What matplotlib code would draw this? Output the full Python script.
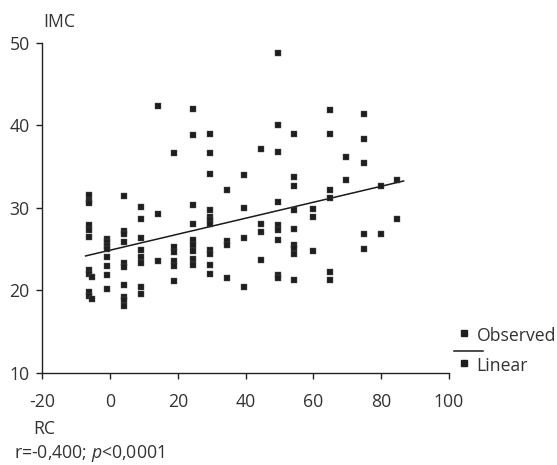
import numpy as np
import matplotlib
matplotlib.use('Agg')
import matplotlib.pyplot as plt
from matplotlib.lines import Line2D

plt.rcParams['font.family'] = ['Open Sans', 'DejaVu Sans']
plt.rcParams['axes.unicode_minus'] = False
plt.rcParams['mathtext.fontset'] = 'custom'
plt.rcParams['mathtext.it'] = 'Open Sans:italic'
plt.rcParams['mathtext.rm'] = 'Open Sans'

# RC (x) columns and the IMC (y) values read in each column
rc_cols = [-6.2, -5.3, -1.0, 4.2, 9.2, 14.2, 19.0, 24.5, 29.6, 34.4,
           39.5, 44.4, 49.5, 54.3, 59.8, 64.9, 69.7, 74.8, 79.8, 84.6]
imc_cols = [
    [31.6, 30.8, 30.6, 27.9, 27.3, 26.5, 22.4, 22.0, 19.8, 19.3],
    [21.6, 19.0],
    [26.2, 25.8, 25.4, 25.0, 24.0, 23.0, 21.9, 20.1],
    [31.4, 27.2, 26.8, 25.8, 23.3, 22.8, 20.7, 19.2, 18.8, 18.1],
    [30.1, 28.6, 26.3, 24.9, 24.0, 23.3, 20.4, 19.6],
    [42.4, 29.3, 23.6],
    [36.6, 25.2, 24.7, 23.6, 22.9, 21.1],
    [42.0, 38.8, 30.3, 28.0, 26.1, 25.5, 24.8, 23.75, 23.1],
    [39.0, 36.6, 34.1, 29.8, 28.9, 28.5, 28.1, 24.9, 24.4, 23.1, 22.0],
    [32.2, 26.0, 25.5, 21.5],
    [34.0, 30.0, 26.4, 20.4],
    [37.2, 28.0, 27.1, 23.7],
    [48.8, 40.1, 36.8, 30.7, 27.9, 27.3, 26.1, 21.9, 21.5],
    [39.0, 33.8, 32.7, 29.7, 27.4, 25.5, 25.1, 24.35, 21.3],
    [29.9, 28.85, 24.8],
    [41.9, 39.0, 32.2, 31.15, 22.25, 21.2],
    [36.2, 33.4],
    [41.4, 38.3, 35.5, 26.8, 24.95],
    [32.65, 26.85],
    [33.4, 28.6],
]

x = np.concatenate([[c] * len(v) for c, v in zip(rc_cols, imc_cols)])
y = np.concatenate(imc_cols)

# linear fit, drawn over the data range
slope, intercept = np.polyfit(x, y, 1)
xl = np.array([x.min() - 1, x.max() + 2])

txt = '#333333'
mk = '#1e1e1e'
fs = 12.7

fig = plt.figure(figsize=(5.57, 4.65), dpi=100)
ax = fig.add_axes([0.0759, 0.1985, 0.7302, 0.709])

ax.plot(x, y, 's', color=mk, markersize=3.9, markeredgewidth=0.3,
        markeredgecolor='#555555', zorder=3)
ax.plot(xl, slope * xl + intercept, color='#1a1a1a', lw=1.1, zorder=2)

ax.set_xlim(-20, 100)
ax.set_ylim(10, 50)
ax.set_xticks(np.arange(-20, 101, 20))
ax.set_yticks(np.arange(10, 51, 10))
for s in ['top', 'right']:
    ax.spines[s].set_visible(False)
for s in ['left', 'bottom']:
    ax.spines[s].set_linewidth(1.0)
    ax.spines[s].set_color('#222222')
ax.tick_params(direction='out', length=4, width=1.0, color='#222222',
               labelsize=fs, labelcolor=txt, pad=5)
ax.tick_params(axis='x', pad=10.5)

fig.text(0.077, 0.952, 'IMC', fontsize=fs, color=txt, va='center', ha='left')
fig.text(0.059, 0.077, 'RC', fontsize=fs, color=txt, va='center', ha='left')
fig.text(0.025, 0.024, r'r=-0,400; $\it{p}$<0,0001', fontsize=fs, color=txt,
         va='center', ha='left')

# legend as drawn in the original
fig.add_artist(Line2D([0.8336], [0.2832], marker='s', color=mk, markersize=3.9, ls='none'))
fig.add_artist(Line2D([0.8336], [0.2187], marker='s', color=mk, markersize=3.9, ls='none'))
fig.add_artist(Line2D([0.8157, 0.8677], [0.2458, 0.2458], color='#1a1a1a', lw=1.1))
fig.text(0.8558, 0.278, 'Observed', fontsize=fs, color=txt, va='center', ha='left')
fig.text(0.8558, 0.213, 'Linear', fontsize=fs, color=txt, va='center', ha='left')

fig.savefig('out.png', dpi=100)
